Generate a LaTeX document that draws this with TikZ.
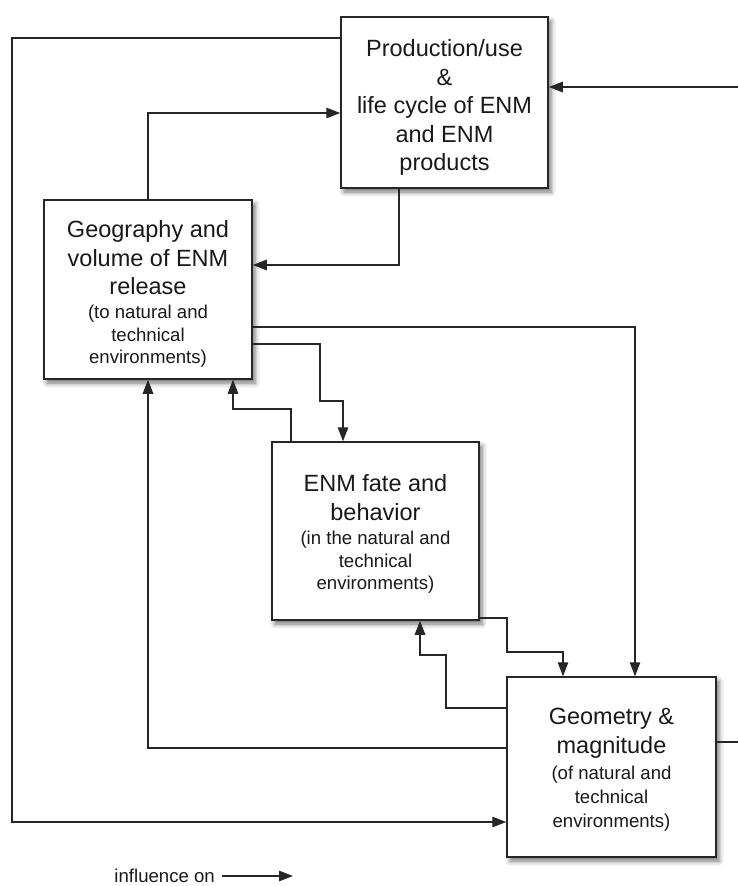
\documentclass[tikz,border=0pt]{standalone}
\usepackage{fontspec}
\setmainfont{Liberation Sans}
\usetikzlibrary{arrows.meta,shadows.blur}

\newcommand\bigtext{\fontsize{23.5}{28.5}\selectfont}
\newcommand\smalltext{\fontsize{18.6}{22.5}\selectfont}

\tikzset{
  block/.style={draw=black!85, line width=1.5pt, fill=white, inner sep=0pt,
    blur shadow={shadow xshift=3pt, shadow yshift=-4pt, shadow blur radius=5pt,
                 shadow opacity=55}},
  blocktext/.style={align=center, inner sep=0pt, font=\bigtext, text=black!90},
  link/.style={draw=black!85, line width=1.3pt,
    -{Triangle[length=14pt,width=10.5pt]}},
}

\begin{document}
\begin{tikzpicture}[x=1pt, y=-1pt]
  \useasboundingbox (0,0) rectangle (738,886);

  % the four blocks
  \node[block, minimum width=207pt, minimum height=171pt] (Prod) at (444.5,102.5) {};
  \node[block, minimum width=208pt, minimum height=179pt] (Geo) at (148,289.5) {};
  \node[block, minimum width=207pt, minimum height=178pt] (Fate) at (375.5,531) {};
  \node[block, minimum width=209pt, minimum height=180pt] (Geom) at (611.5,767) {};

  % their texts
  \node[blocktext] (ProdText) at (444.5,107.5)
    {Production/use\\\&\\life cycle of ENM\\and ENM\\products};
  \node[blocktext] (GeoText) at (148,294)
    {Geography and\\volume of ENM\\release\\[-4.5pt]
     \smalltext (to natural and\\[-6pt] \smalltext technical\\[-6pt] \smalltext environments)};
  \node[blocktext] (FateText) at (375.5,534)
    {ENM fate and\\behavior\\[-4pt]
     \smalltext (in the natural and\\[-6pt] \smalltext technical\\[-6pt] \smalltext environments)};
  \node[blocktext] (GeomText) at (611.5,770)
    {Geometry \&\\magnitude\\[-2pt]
     \smalltext (of natural and\\[-4.5pt] \smalltext technical\\[-4.5pt] \smalltext environments)};

  % influences between the blocks
  \draw[link] (Prod.west |- 0,38) -| (12,822) -- (Geom.west |- 0,822);
  \draw[link] (Geo.north) |- (Prod.west |- 0,113);
  \draw[link] (Prod.south -| 399,0) |- (Geo.east |- 0,265);
  \draw[link] (Geom.east |- 0,742) -- (760,742) |- (Prod.east |- 0,87);
  \draw[link] (Geo.east |- 0,327) -| (Geom.north -| 635,0);
  \draw[link] (Geo.east |- 0,344) -| (320,401) -| (Fate.north -| 343,0);
  \draw[link] (Fate.north -| 291,0) |- (233,409) -- (Geo.south -| 233,0);
  \draw[link] (Fate.east |- 0,618) -| (507,652) -| (Geom.north -| 563,0);
  \draw[link] (Geom.west |- 0,708) -| (446,655) -| (Fate.south -| 420,0);
  \draw[link] (Geom.west |- 0,748) -| (Geo.south);

  % legend
  \node[font=\smalltext, text=black!90, anchor=east, inner sep=0pt] (legtext) at (215,876) {influence on};
  \coordinate (legA) at (222,876);
  \coordinate (legB) at (293,876);
  \draw[link] (legA) -- (legB);
\end{tikzpicture}
\end{document}
